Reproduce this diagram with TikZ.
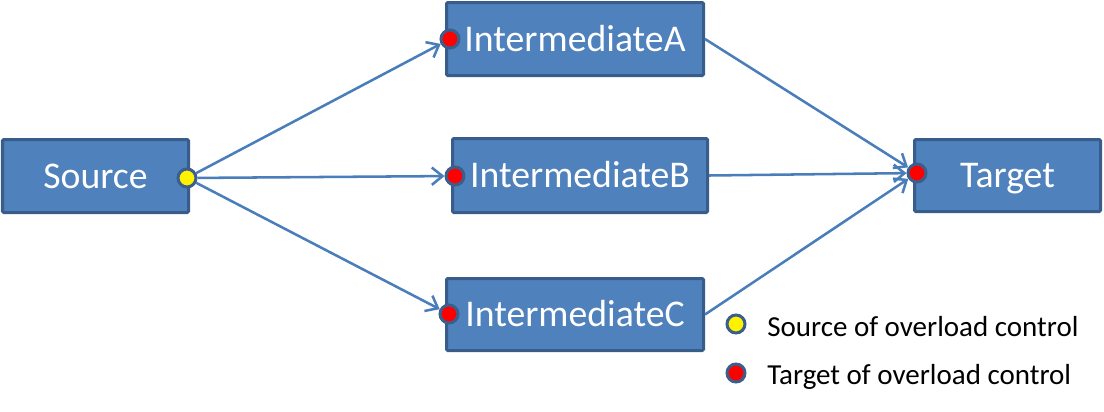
\documentclass[tikz,border=0pt]{standalone}
\usepackage{fontspec}
\setmainfont{Carlito}
\usetikzlibrary{arrows.meta}
\definecolor{boxfill}{HTML}{4F81BD}
\definecolor{boxline}{HTML}{385D8A}
\definecolor{arrowcol}{HTML}{4A7EBB}
\definecolor{dotline}{HTML}{3B5E8C}
\tikzset{
  box/.style={draw=boxline, fill=boxfill, line width=2.25pt, rounded corners=1pt,
    text=white, font=\fontsize{28.3}{34}\selectfont, inner sep=0pt,
    text height=18.5pt, text depth=0pt},
  dot/.style={circle, draw=dotline, line width=2.25pt, minimum size=13.5pt, inner sep=0pt},
  srcdot/.style={dot, fill=yellow},
  tgtdot/.style={dot, fill=red},
  conn/.style={draw=arrowcol, line width=1.9pt, -{Straight Barb[length=8pt,width=13pt]}},
  legtext/.style={anchor=base west, inner sep=0pt, font=\fontsize{21.75}{26}\selectfont, text=black}
}
\begin{document}
\begin{tikzpicture}[x=0.75pt,y=-0.75pt]
\useasboundingbox (0,0) rectangle (1104,411);
\node[box, minimum width=139.5pt, minimum height=54.75pt] (src) at (95.5,176) {Source};
\node[box, minimum width=192.75pt, minimum height=54.75pt] (ia) at (575,39) {IntermediateA};
\node[box, minimum width=191.25pt, minimum height=55.5pt] (ib) at (580,175.5) {IntermediateB};
\node[box, minimum width=192.75pt, minimum height=54pt] (ic) at (575,314.5) {IntermediateC};
\node[box, minimum width=139.5pt, minimum height=54pt] (tgt) at (1007.5,175.5) {Target};
\node[srcdot] (sd) at (187,178) {};
\node[tgtdot] (ad) at (450,39) {};
\node[tgtdot] (bd) at (455,176) {};
\node[tgtdot] (cd) at (449,314) {};
\node[tgtdot] (td) at (917,173) {};
\draw[conn] (sd) -- (ad);
\draw[conn] (sd) -- (bd);
\draw[conn] (sd) -- (cd);
\draw[conn] (ia.east) -- (td);
\draw[conn] (ib.east) -- (td);
\draw[conn] (ic.east) -- (td);
\node[srcdot] (ls) at (736,324) {};
\node[tgtdot] (lt) at (736,373) {};
\node[legtext] (lst) at (767,336) {Source of overload control};
\node[legtext] (ltt) at (767,384) {Target of overload control};
\end{tikzpicture}
\end{document}
